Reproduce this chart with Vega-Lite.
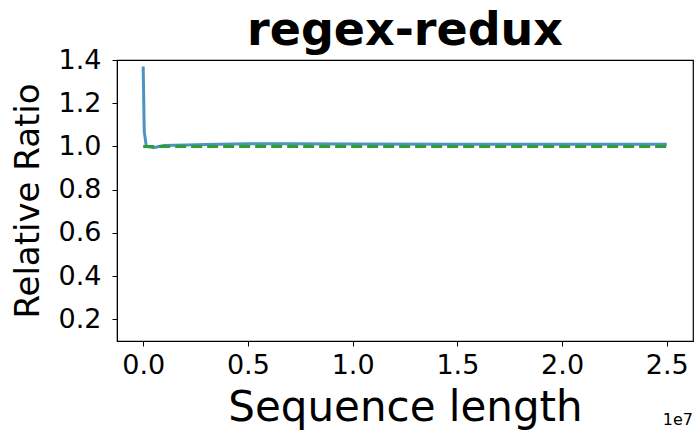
{
  "$schema": "https://vega.github.io/schema/vega-lite/v6.json",
  "autosize": {"type": "none"},
  "width": 576,
  "height": 281,
  "padding": {"left": 117, "top": 60, "right": 1, "bottom": 91},
  "background": "white",
  "config": {
    "font": "DejaVu Sans",
    "view": {"stroke": "black", "strokeWidth": 1.2},
    "axis": {"grid": false, "domainColor": "black", "tickColor": "black", "labelColor": "black", "titleColor": "black", "labelFont": "DejaVu Sans", "titleFont": "DejaVu Sans", "titleFontWeight": "normal", "tickSize": 5, "tickWidth": 1}
  },
  "title": {"text": "regex-redux", "fontSize": 46, "fontWeight": "bold", "font": "DejaVu Sans", "color": "black", "anchor": "middle", "offset": -9},
  "datasets": {
    "series": [
      {"len": 0, "ratio": 1.37, "s": "measured"},
      {"len": 50000, "ratio": 1.07, "s": "measured"},
      {"len": 150000, "ratio": 1.0, "s": "measured"},
      {"len": 300000, "ratio": 0.998, "s": "measured"},
      {"len": 500000, "ratio": 0.994, "s": "measured"},
      {"len": 750000, "ratio": 1.0, "s": "measured"},
      {"len": 1000000, "ratio": 1.005, "s": "measured"},
      {"len": 2000000, "ratio": 1.007, "s": "measured"},
      {"len": 3000000, "ratio": 1.009, "s": "measured"},
      {"len": 5000000, "ratio": 1.013, "s": "measured"},
      {"len": 7000000, "ratio": 1.012, "s": "measured"},
      {"len": 10000000, "ratio": 1.011, "s": "measured"},
      {"len": 15000000, "ratio": 1.01, "s": "measured"},
      {"len": 20000000, "ratio": 1.01, "s": "measured"},
      {"len": 25000000, "ratio": 1.01, "s": "measured"}
    ],
    "base": [
      {"len": 0, "ratio": 1.0},
      {"len": 25000000, "ratio": 1.0}
    ]
  },
  "layer": [
    {
      "data": {"name": "series"},
      "mark": {"type": "line", "color": "#1f77b4", "opacity": 0.8, "strokeWidth": 3},
      "encoding": {
        "x": {"field": "len", "type": "quantitative", "scale": {"domain": [-1250000, 26250000], "nice": false, "zero": false},
          "axis": {"title": "Sequence length", "titleFontSize": 42, "titlePadding": 9, "labelFontSize": 27, "labelPadding": 6, "values": [0, 5000000, 10000000, 15000000, 20000000, 25000000], "labelExpr": "format(datum.value / 10000000, '.1f')"}},
        "y": {"field": "ratio", "type": "quantitative", "scale": {"domain": [0.1, 1.4], "nice": false, "zero": false},
          "axis": {"title": "Relative Ratio", "titleFontSize": 34, "titlePadding": 13, "labelFontSize": 27, "labelPadding": 11, "values": [0.2, 0.4, 0.6, 0.8, 1.0, 1.2, 1.4], "format": ".1f"}}
      }
    },
    {
      "data": {"name": "base"},
      "mark": {"type": "line", "color": "#2ca02c", "strokeWidth": 3, "strokeDash": [11, 5]},
      "encoding": {
        "x": {"field": "len", "type": "quantitative"},
        "y": {"field": "ratio", "type": "quantitative"}
      }
    },
    {
      "data": {"values": [{"len": 26250000, "ratio": 0.1, "t": "1e7"}]},
      "mark": {"type": "text", "align": "right", "baseline": "alphabetic", "fontSize": 16, "dy": 84, "color": "black"},
      "encoding": {
        "x": {"field": "len", "type": "quantitative"},
        "y": {"field": "ratio", "type": "quantitative"},
        "text": {"field": "t"}
      }
    }
  ]
}
